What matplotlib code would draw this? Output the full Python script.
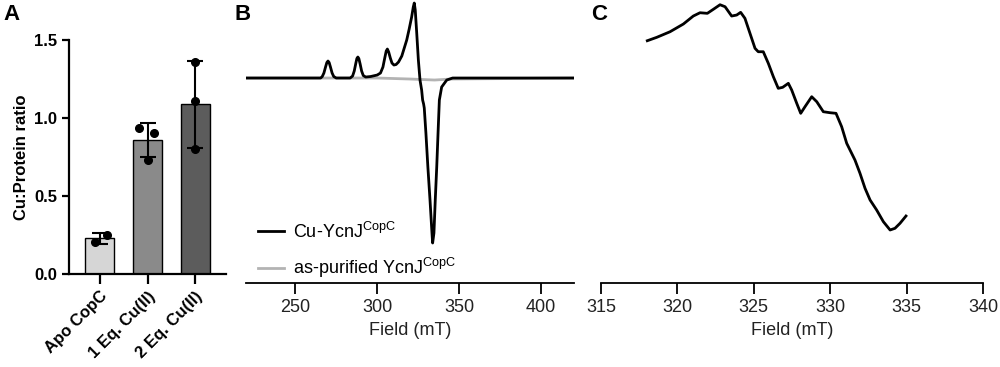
import numpy as np
import matplotlib
matplotlib.use("Agg")
import matplotlib.pyplot as plt

plt.rcParams['font.family'] = ['Liberation Sans', 'DejaVu Sans']
plt.rcParams['mathtext.fontset'] = 'custom'
plt.rcParams['mathtext.rm'] = 'Liberation Sans'

# Panel A: Cu:protein ratio
groups = ['Apo CopC', '1 Eq. Cu(II)', '2 Eq. Cu(II)']
replicates = [[0.205, 0.252], [0.936, 0.906, 0.731], [1.357, 1.109, 0.801]]
jitter = [[-0.1, 0.14], [-0.17, 0.13, 0.0], [0.0, 0.0, 0.0]]
bar_colors = ['#d6d6d6', '#8a8a8a', '#5c5c5c']

# Panel B: EPR spectra (field in mT, intensity in a.u.)
field_cu = [220, 240, 265.5, 266.5, 267.5, 268.5, 269.3, 270, 270.7, 271.5, 272.5, 273.5, 275,
            283.5, 285, 286, 287, 287.6, 288.2, 288.8, 289.6, 290.5, 291.5, 293, 296,
            300, 302, 303.5, 304.6, 305.5, 306.2, 307, 308, 309, 310.2, 311.5, 313, 315,
            316.5, 318, 319.5, 321, 322, 322.6, 323.2, 324.1, 325.1, 326.1, 327.1, 327.7,
            328.3, 328.7, 329.1, 329.7, 330.9, 332.2, 333.4, 333.8, 334.6, 335.4, 336.3,
            337.1, 337.9, 339.3, 342.4, 346, 420]
signal_cu = [0, 0, 0, 1.5, 5, 11, 15.5, 17, 15.5, 11, 5, 1.5, 0,
             0, 2, 7, 15, 19.5, 21, 19.5, 14, 7, 2.5, 1, 1.5,
             3, 5, 11, 20, 27, 29, 26, 20, 15, 13, 13.5, 16, 22,
             30, 38, 49, 61, 71, 75, 68, 45, 18, -2, -12, -22,
             -26, -30, -40, -55, -89, -122, -155, -165, -155, -122, -89,
             -55, -22, -9, -2, 0, 0]
field_apo = [220, 300, 320, 335, 345, 420]
signal_apo = [0, 0, -1, -2, -1, 0]

# Panel C: zoom of the hyperfine region
field_zoom = [318.03, 318.65, 319.52, 320.39, 321.04, 321.48, 321.96, 322.35, 322.79, 323.12,
              323.55, 323.88, 324.14, 324.42, 324.75, 325.08, 325.29, 325.62, 325.95, 326.28,
              326.60, 326.89, 327.26, 327.48, 327.81, 328.07, 328.35, 328.79, 329.12, 329.55,
              329.99, 330.38, 330.75, 331.08, 331.62, 331.95, 332.28, 332.61, 333.04, 333.48,
              333.92, 334.24, 334.57, 334.96]
signal_zoom = [242.3, 245.7, 251.3, 259.0, 267.0, 270.3, 269.7, 273.7, 278.3, 276.3,
               267.0, 268.0, 270.7, 264.7, 249.7, 234.7, 231.3, 231.3, 219.7, 206.3,
               194.7, 195.7, 199.7, 193.0, 179.7, 169.7, 176.3, 186.3, 181.3, 171.3,
               170.3, 169.7, 156.3, 139.7, 123.0, 109.7, 94.7, 83.0, 73.0, 61.3,
               53.0, 54.7, 59.7, 67.0]

fig = plt.figure(figsize=(10, 3.67), dpi=100)

# ---- Panel A ----
axA = fig.add_axes([0.069, 0.2534, 0.157, 0.6376])
x = np.arange(len(groups))
means = [np.mean(r) for r in replicates]
sds = [np.std(r, ddof=1) for r in replicates]
axA.bar(x, means, width=0.61, color=bar_colors, edgecolor='black', linewidth=1.0, zorder=1)
axA.errorbar(x, means, yerr=sds, fmt='none', ecolor='black', elinewidth=1.5,
             capsize=6, capthick=1.5, zorder=2)
for i, (vals, dx) in enumerate(zip(replicates, jitter)):
    axA.plot(i + np.array(dx), vals, 'o', color='black', markersize=5.5, zorder=3)
axA.set_xlim(-0.65, 2.65)
axA.set_ylim(0, 1.5)
axA.set_yticks([0.0, 0.5, 1.0, 1.5])
axA.set_yticklabels(['0.0', '0.5', '1.0', '1.5'], fontsize=12, fontweight='bold')
axA.set_xticks(x)
axA.set_xticklabels(groups, rotation=45, ha='right', rotation_mode='anchor',
                    fontsize=12, fontweight='bold')
axA.set_ylabel('Cu:Protein ratio', fontsize=12, fontweight='bold', labelpad=4)
for side in ['top', 'right']:
    axA.spines[side].set_visible(False)
for side in ['left', 'bottom']:
    axA.spines[side].set_linewidth(1.6)
axA.tick_params(axis='y', width=1.6, length=5)
axA.tick_params(axis='x', width=1.6, length=7)

# ---- Panel B ----
axB = fig.add_axes([0.246, 0.2289, 0.328, 0.771])
axB.plot(field_apo, signal_apo, color='#b3b3b3', linewidth=2.0,
         label='as-purified YcnJ$^{\\mathrm{CopC}}$', zorder=1)
axB.plot(field_cu, signal_cu, color='black', linewidth=2.0,
         label='Cu-YcnJ$^{\\mathrm{CopC}}$', zorder=2)
axB.set_xlim(220, 420)
axB.set_ylim(-205, 78)
axB.set_xticks([250, 300, 350, 400])
axB.set_yticks([])
for side in ['top', 'right', 'left']:
    axB.spines[side].set_visible(False)
axB.spines['bottom'].set_linewidth(1.3)
axB.tick_params(axis='x', width=1.3, length=8, labelsize=13, labelcolor='#222222')
axB.set_xlabel('Field (mT)', fontsize=13, color='#222222')
h, l = axB.get_legend_handles_labels()
axB.legend(h[::-1], l[::-1], loc='lower left', bbox_to_anchor=(0.005, -0.028), frameon=False,
           fontsize=13, handlelength=1.4, handletextpad=0.5, labelspacing=0.8,
           borderaxespad=0.2)

# ---- Panel C ----
axC = fig.add_axes([0.601, 0.2289, 0.382, 0.771])
axC.plot(field_zoom, signal_zoom, color='black', linewidth=2.0)
axC.set_xlim(315, 340)
axC.set_ylim(0, 283)
axC.set_xticks([315, 320, 325, 330, 335, 340])
axC.set_yticks([])
for side in ['top', 'right', 'left']:
    axC.spines[side].set_visible(False)
axC.spines['bottom'].set_linewidth(1.3)
axC.tick_params(axis='x', width=1.3, length=8, labelsize=13, labelcolor='#222222')
axC.set_xlabel('Field (mT)', fontsize=13, color='#222222')

# Panel letters
fig.text(0.003, 0.99, 'A', fontsize=16, fontweight='bold', va='top')
fig.text(0.234, 0.99, 'B', fontsize=16, fontweight='bold', va='top')
fig.text(0.591, 0.99, 'C', fontsize=16, fontweight='bold', va='top')

fig.savefig('out.png', dpi=100)
